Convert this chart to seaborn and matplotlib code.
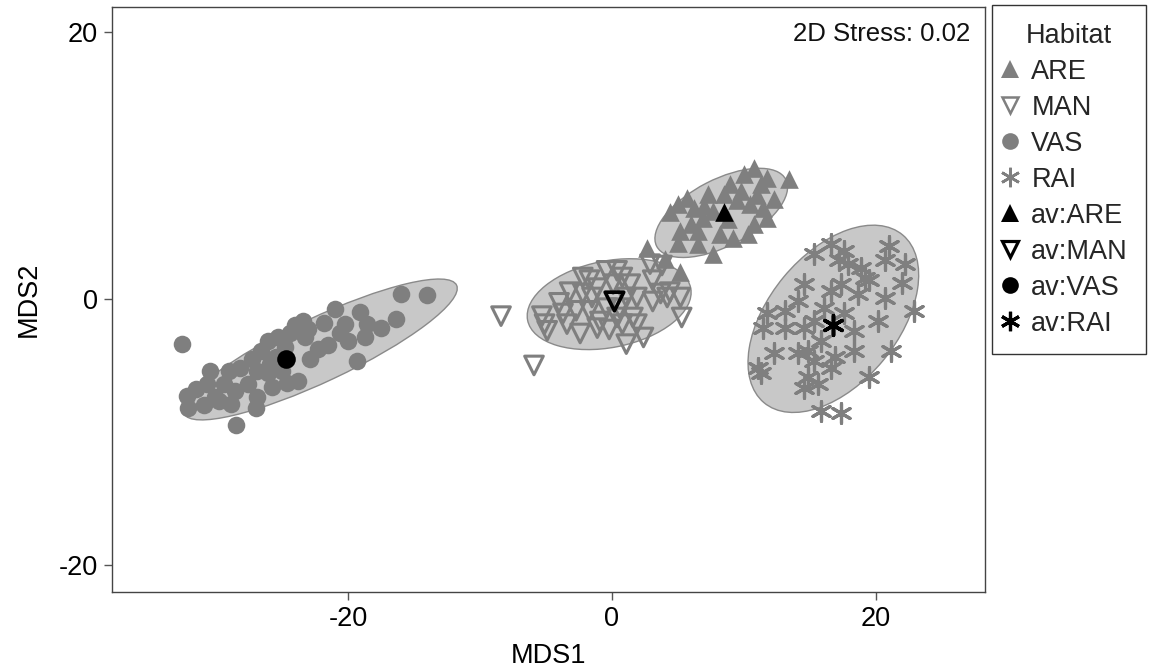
import numpy as np
import pandas as pd
import matplotlib
matplotlib.use("Agg")
import matplotlib.pyplot as plt
import seaborn as sns
from matplotlib.patches import Ellipse
from matplotlib.lines import Line2D

# ---------------- data ----------------
groups = ["ARE", "MAN", "VAS", "RAI"]

are_x = [13.4, 10.8, 10.0, 11.3, 9.0, 8.5, 7.3, 5.7, 5.0, 4.4, 5.2, 5.0, 6.5, 7.7, 11.8, 11.5,
         10.8, 10.3, 9.2, 8.2, 6.9, 7.7, 9.5, 10.5, 6.5, 6.0, 9.8, 11.8, 2.7, 5.2, 4.0, 7.0,
         8.8, 6.2, 11.0, 12.3]
are_y = [9.0, 9.8, 9.4, 8.6, 8.6, 7.9, 7.9, 7.6, 7.1, 6.5, 5.1, 4.2, 5.1, 3.4, 6.1, 6.8,
         5.6, 4.9, 4.6, 4.9, 6.1, 6.6, 7.4, 7.1, 4.1, 5.6, 8.1, 9.1, 3.8, 2.0, 3.0, 7.0,
         6.0, 6.8, 7.8, 7.5]

man_x = [-8.4, -5.9, -5.1, -4.9, -5.3, -4.0, -3.2, -2.7, -2.4, -1.7, -1.5, -0.9, -0.2, 0.4, 0.8,
         1.4, 1.9, 1.6, 1.1, 2.4, 1.9, 2.9, 3.8, 3.1, 3.7, 3.1, 4.2, 5.2, 5.3, 4.4, -2.2, -1.1,
         0.1, -0.4, 0.6, -1.7, -3.7, -3.4, 0.4, -1.1, 0.8, -2.2, -0.4, 1.1]
man_y = [-1.3, -5.0, -1.9, -2.4, -1.3, -0.3, 0.5, -0.9, -2.6, 1.4, 0.1, -1.7, -2.3, 2.1, 1.6,
         1.1, 0.1, -1.4, -3.4, -2.9, -1.9, 2.6, 2.5, 1.4, 0.4, -0.2, 0.1, 0.1, -1.4, 0.5, 1.6, 0.8,
         1.1, -0.7, -0.7, -0.9, -1.1, -1.9, -1.4, -2.2, -1.9, 0.4, 2.1, 0.1]

vas_x = [-32.6, -32.2, -32.1, -28.5, -16.0, -14.0, -16.4, -19.3, -21.0, -19.1, -21.8, -20.2, -20.6,
         -18.7, -18.6, -23.4, -24.4, -25.3, -26.1, -23.3, -22.3, -21.5, -22.9, -23.8, -24.6, -26.6,
         -27.3, -28.2, -26.9, -26.1, -29.0, -30.5, -30.7, -29.4, -28.6, -27.6, -26.9, -27.0, -28.9,
         -30.9, -30.1, -25.5, -25.0, -25.9, -24.0, -23.0, -24.8, -20.0, -17.5, -25.8, -31.5, -29.8]
vas_y = [-3.4, -7.3, -8.2, -9.5, 0.4, 0.3, -1.5, -4.7, -0.8, -1.0, -1.8, -1.9, -2.6,
         -2.9, -1.9, -1.7, -2.6, -2.9, -3.2, -2.9, -3.8, -3.5, -4.5, -6.2, -6.3, -3.9,
         -4.5, -5.2, -5.4, -5.6, -5.4, -5.4, -6.4, -6.4, -6.9, -6.4, -7.4, -8.2, -7.9,
         -8.0, -7.4, -4.4, -5.4, -4.9, -2.0, -2.3, -3.6, -3.2, -2.2, -6.6, -6.8, -7.7]

rai_x = [15.3, 16.6, 17.6, 17.9, 17.2, 19.2, 19.5, 20.7, 21.0, 22.2, 22.0, 20.7, 22.9, 20.2, 18.7,
         17.4, 16.6, 14.6, 14.1, 13.1, 11.8, 11.5, 13.1, 14.6, 16.1, 17.6, 18.4, 15.9, 14.9, 14.1,
         12.3, 11.1, 11.3, 15.3, 16.9, 18.4, 21.2, 19.5, 14.9, 15.6, 14.6, 15.9, 17.4, 16.6, 15.3,
         18.9]
rai_y = [3.4, 4.1, 3.6, 2.6, 2.9, 1.6, 1.4, 2.9, 4.0, 2.6, 1.2, 0.1, -0.9, -1.7, 0.4,
         1.1, 0.6, 1.1, -0.2, -0.9, -1.1, -2.2, -2.2, -2.2, -0.7, -1.1, -2.4, -3.2, -3.9, -4.1,
         -4.1, -5.2, -5.6, -4.7, -4.4, -3.9, -3.9, -5.9, -5.9, -6.4, -6.7, -8.4, -8.6, -5.2, -1.7,
         2.3]

# group averages
av_x = [8.5, 0.2, -24.7, 16.8]
av_y = [6.5, -0.2, -4.5, -2.0]

# dispersion ellipses (centre, semi-axes, angle in degrees)
ell_cx = [8.3, -0.2, -22.1, 16.8]
ell_cy = [6.45, -0.4, -3.8, -1.5]
ell_a = [5.5, 6.3, 11.4, 8.2]
ell_b = [2.5, 3.25, 2.4, 4.9]
ell_ang = [27, 11, 25, 50]

stress_label = "2D Stress: 0.02"
x_ticks = [-20, 0, 20]
y_ticks = [-20, 0, 20]

# ---------------- style ----------------
sns.set_theme(style="white")
plt.rcParams['font.family'] = ['Liberation Sans', 'DejaVu Sans']
plt.rcParams['axes.unicode_minus'] = False

GRAY = "#7f7f7f"
FILL = "#c8c8c8"
STAR = (6, 2, 0)

fig = plt.figure(figsize=(11.61, 6.70), dpi=100)
ax = fig.add_axes([112 / 1161, 1 - 592 / 670, 873 / 1161, 585 / 670])

for cx, cy, a, b, ang in zip(ell_cx, ell_cy, ell_a, ell_b, ell_ang):
    ax.add_patch(Ellipse((cx, cy), 2 * a, 2 * b, angle=ang, facecolor=FILL,
                         edgecolor="#8a8a8a", linewidth=1.0, zorder=1))

sns.scatterplot(x=vas_x, y=vas_y, marker="o", color=GRAY, s=160, linewidth=0, ax=ax, zorder=2)
sns.scatterplot(x=man_x, y=man_y, marker="v", color=GRAY, facecolor="none", edgecolor=GRAY,
                s=180, linewidth=2.2, ax=ax, zorder=2)
sns.scatterplot(x=are_x, y=are_y, marker="^", color=GRAY, s=180, linewidth=0, ax=ax, zorder=2)
sns.scatterplot(x=rai_x, y=rai_y, marker=STAR, color=GRAY, s=200, linewidth=2.3, ax=ax, zorder=2)

# averages
av_markers = ["^", "v", "o", STAR]
for i, g in enumerate(groups):
    mk = av_markers[i]
    if mk == "v":
        sns.scatterplot(x=[av_x[i]], y=[av_y[i]], marker=mk, color="black", facecolor="none",
                        edgecolor="black", s=180, linewidth=2.6, ax=ax, zorder=3)
    elif mk == STAR:
        sns.scatterplot(x=[av_x[i]], y=[av_y[i]], marker=mk, color="black", s=200,
                        linewidth=2.6, ax=ax, zorder=3)
    else:
        sns.scatterplot(x=[av_x[i]], y=[av_y[i]], marker=mk, color="black", s=180,
                        linewidth=0, ax=ax, zorder=3)

ax.set_xlim(-37.9, 28.3)
ax.set_ylim(-22.0, 21.9)
ax.set_xticks(x_ticks)
ax.set_yticks(y_ticks)
ax.tick_params(axis="both", which="both", direction="out", length=6, width=1,
               color="#555555", labelsize=19.5, labelcolor="black", pad=4,
               bottom=True, left=True)
for s in ax.spines.values():
    s.set_color("#444444")
    s.set_linewidth(1.0)
ax.set_xlabel("MDS1", fontsize=19.5, color="black", labelpad=8)
ax.set_ylabel("MDS2", fontsize=19.5, color="black", labelpad=12)

ax.text(0.983, 0.975, stress_label, transform=ax.transAxes, ha="right", va="top",
        fontsize=18.5, color="#111111")

# legend
handles = [
    Line2D([], [], linestyle="none", marker="^", color=GRAY, markersize=13, markeredgewidth=0),
    Line2D([], [], linestyle="none", marker="v", color=GRAY, markerfacecolor="none",
           markersize=11, markeredgewidth=1.8),
    Line2D([], [], linestyle="none", marker="o", color=GRAY, markersize=12, markeredgewidth=0),
    Line2D([], [], linestyle="none", marker=STAR, color=GRAY, markersize=14, markeredgewidth=1.9),
    Line2D([], [], linestyle="none", marker="^", color="black", markersize=13, markeredgewidth=0),
    Line2D([], [], linestyle="none", marker="v", color="black", markerfacecolor="none",
           markersize=11, markeredgewidth=2.3),
    Line2D([], [], linestyle="none", marker="o", color="black", markersize=12, markeredgewidth=0),
    Line2D([], [], linestyle="none", marker=STAR, color="black", markersize=14, markeredgewidth=2.3),
]
labels = groups + ["av:" + g for g in groups]
leg = ax.legend(handles, labels, title="Habitat", loc="upper left",
                bbox_to_anchor=(992 / 1161, 1 - 5 / 670), bbox_transform=fig.transFigure,
                fontsize=19.5, title_fontsize=19.5, frameon=True, fancybox=False,
                edgecolor="#333333", framealpha=1, borderpad=0.65, labelspacing=0.37,
                handlelength=0.05, handletextpad=0.75, borderaxespad=0)
leg.get_frame().set_linewidth(1.0)

fig.savefig("out.png", dpi=100)
